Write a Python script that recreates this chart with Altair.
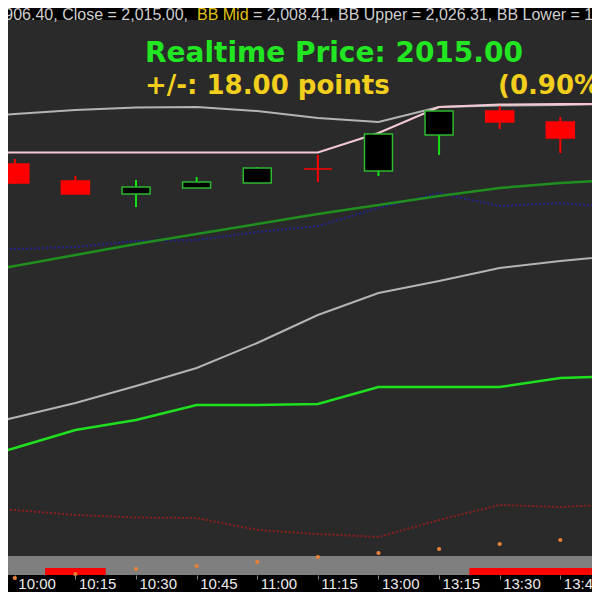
import json
import altair as alt
import pandas as pd

# ---------------- data ----------------
times = ["10:00", "10:15", "10:30", "10:45", "11:00", "11:15", "13:00", "13:15", "13:30", "13:45"]
bar_idx = list(range(10))
open_px = [2012.06, 2008.05, 2004.99, 2006.40, 2007.58, 2010.88, 2010.41, 2018.89, 2024.55, 2021.96]
high_px = [2013.24, 2009.23, 2008.29, 2008.99, 2011.35, 2014.18, 2019.13, 2024.55, 2025.73, 2023.14]
low_px = [2007.34, 2004.99, 2001.92, 2006.40, 2007.58, 2007.81, 2009.23, 2014.18, 2020.31, 2014.65]
close_px = [2007.58, 2004.99, 2006.64, 2007.81, 2011.11, 2010.88, 2019.13, 2024.55, 2021.96, 2018.19]

# line series (one bar before and one after the visible window)
line_idx = list(range(-1, 11))
bb_upper = [2022.90, 2023.84, 2024.79, 2025.37, 2025.49, 2024.55, 2022.90, 2021.96, 2025.49, 2025.85, 2025.96, 2026.31]
stop_line = [2014.77, 2014.77, 2014.77, 2014.77, 2014.77, 2014.77, 2014.77, 2019.36, 2025.49, 2026.08, 2026.20, 2026.20]
bb_mid = [1985.66, 1988.01, 1990.61, 1993.20, 1995.56, 1997.91, 2000.27, 2002.39, 2004.51, 2006.40, 2007.58, 2008.41]
avg_line = [1991.08, 1992.02, 1992.49, 1993.91, 1994.14, 1996.03, 1997.44, 2001.69, 2005.22, 2002.16, 2002.86, 2001.69]
bb_lower = [1948.89, 1952.30, 1955.72, 1959.73, 1963.97, 1969.86, 1976.46, 1981.65, 1984.48, 1987.54, 1989.19, 1990.51]
support_line = [1940.87, 1945.11, 1949.36, 1951.71, 1955.25, 1955.25, 1955.49, 1959.49, 1959.49, 1959.49, 1961.61, 1962.09]
trail_line = [1931.21, 1930.50, 1929.32, 1928.73, 1928.61, 1925.79, 1924.84, 1924.14, 1928.14, 1931.68, 1931.21, 1931.91]

# lower indicator strip
sig_idx = list(range(0, 11))
signal = [0, 1, 0, 0, 0, 0, 0, 0, 1, 1, 1]
strip_band = [0.0, 4.75]
signal_level = 1.75
dot_values = [-0.75, 0.25, 1.5, 2.25, 3.25, 4.5, 5.5, 6.5, 7.75, 8.75]

header_1 = "1,906.40, Close = 2,015.00,"
header_2 = "BB Mid"
header_3 = "= 2,008.41, BB Upper = 2,026.31, BB Lower = 1,990.51"
title_1 = "Realtime Price: 2015.00"
title_2 = "+/-: 18.00 points"
title_3 = "(0.90%)"

# ---------------- frames ----------------
candles = pd.DataFrame({"idx": bar_idx, "open": open_px, "high": high_px,
                        "low": low_px, "close": close_px})
lines = pd.DataFrame({"idx": line_idx, "bb_upper": bb_upper, "stop": stop_line,
                      "bb_mid": bb_mid, "avg": avg_line, "bb_lower": bb_lower,
                      "support": support_line, "trail": trail_line})
sig = pd.DataFrame({"idx": sig_idx, "signal": signal})
sig = sig[sig.signal == 1].copy()
sig["x0"] = sig["idx"] - 0.5
sig["x1"] = sig["idx"] + 0.5
sig["v0"] = 0.0
sig["v1"] = signal_level
strip = pd.DataFrame({"x0": [line_idx[0]], "x1": [line_idx[-1] + 1],
                      "v0": [strip_band[0]], "v1": [strip_band[1]]})
dots = pd.DataFrame({"idx": bar_idx, "v": dot_values})

header_df = pd.DataFrame({"x": [-0.393, 3.006, 3.930], "y": [2046.0] * 3,
                          "t": [header_1, header_2, header_3],
                          "c": ["grey", "yellow", "grey"]})
t1_df = pd.DataFrame({"x": [2.148], "y": [2036.10], "t": [title_1]})
t2_df = pd.DataFrame({"x": [2.148, 7.972], "y": [2028.56, 2028.56], "t": [title_2, title_3]})

# ---------------- scales / encodings ----------------
x_scale = alt.Scale(domain=[-0.1122, 9.523], nice=False, zero=False)
x_axis = alt.Axis(values=bar_idx, labelExpr=json.dumps(times) + "[datum.value]",
                  title=None, grid=False, domain=False, ticks=True, tickSize=4,
                  tickColor="#8a8a8a", tickWidth=1, labelColor="#ececec",
                  labelFont="Liberation Sans", labelFontSize=15, labelAlign="left",
                  labelBaseline="alphabetic", labelOffset=3, labelPadding=9,
                  labelFlush=False, labelOverlap=False)


def X(field):
    return alt.X(f"{field}:Q", scale=x_scale, axis=x_axis)


price_scale = alt.Scale(domain=[1915.18, 2046.0], nice=False, zero=False)
ind_scale = alt.Scale(domain=[0, 138.75], nice=False, zero=False)


def YP(field):
    return alt.Y(f"{field}:Q", scale=price_scale, axis=None)


def YI(field):
    return alt.Y(f"{field}:Q", scale=ind_scale, axis=None)


up = alt.datum.close > alt.datum.open

layers = []
layers.append(alt.Chart(strip).mark_rect(color="#7f7f7f", clip=True)
              .encode(x=X("x0"), x2="x1", y=YI("v0"), y2="v1"))
layers.append(alt.Chart(sig).mark_rect(color="#ff0000", clip=True)
              .encode(x=X("x0"), x2="x1", y=YI("v0"), y2="v1"))


def line_layer(field, color, width, dash=None):
    kw = dict(color=color, strokeWidth=width, clip=True)
    if dash:
        kw["strokeDash"] = dash
    return alt.Chart(lines).mark_line(**kw).encode(x=X("idx"), y=YP(field))


layers.append(line_layer("trail", "#8e1f1f", 2, [2, 2]))
layers.append(line_layer("support", "#1ee01e", 2.5))
layers.append(line_layer("bb_lower", "#b4b4b4", 2))
layers.append(line_layer("avg", "#24248c", 2, [2, 2]))
layers.append(line_layer("bb_mid", "#1f8f1f", 2.5))
layers.append(line_layer("bb_upper", "#b4b4b4", 2))
layers.append(line_layer("stop", "#f3cad4", 2))

wick_color = alt.when(up).then(alt.value("#12e012")).otherwise(alt.value("#ff0000"))
body_fill = alt.when(up).then(alt.value("#000000")).otherwise(alt.value("#ff0000"))
body_stroke = alt.when(up).then(alt.value("#2db82d")).otherwise(alt.value("#ff0000"))

candle_base = alt.Chart(candles).transform_calculate(
    bx0="datum.idx - 0.231", bx1="datum.idx + 0.231")
layers.append(candle_base.mark_rule(strokeWidth=2, clip=True)
              .encode(x=X("idx"), y=YP("low"), y2="high", color=wick_color))
layers.append(candle_base.mark_rect(strokeWidth=1.5, clip=True)
              .encode(x=X("bx0"), x2="bx1", y=YP("open"), y2="close",
                      fill=body_fill, stroke=body_stroke))

layers.append(alt.Chart(dots).mark_circle(size=18, color="#e8803a", opacity=1)
              .encode(x=X("idx"), y=YI("v")))

layers.append(alt.Chart(header_df).mark_text(align="left", baseline="alphabetic",
                                             font="Liberation Sans", fontSize=16)
              .encode(x=X("x"), y=YP("y"), text="t:N",
                      color=alt.Color("c:N", scale=alt.Scale(domain=["grey", "yellow"],
                                                             range=["#cfcfcf", "#e0c418"]),
                                      legend=None)))
layers.append(alt.Chart(t1_df).mark_text(align="left", baseline="alphabetic",
                                         font="DejaVu Sans", fontWeight="bold",
                                         fontSize=28, color="#22e622")
              .encode(x=X("x"), y=YP("y"), text="t:N"))
layers.append(alt.Chart(t2_df).mark_text(align="left", baseline="alphabetic",
                                         font="DejaVu Sans", fontWeight="bold",
                                         fontSize=26, color="#f2cf1c")
              .encode(x=X("x"), y=YP("y"), text="t:N"))

chart = (alt.layer(*layers)
         .resolve_scale(y="independent")
         .properties(width=584, height=555,
                     padding={"left": 0, "top": 12, "right": 0, "bottom": 17},
                     autosize=alt.AutoSizeParams(type="none"),
                     background="#000000")
         .configure_view(fill="#2a2a2a", strokeWidth=0))

chart.save("out.html", embed_options={"renderer": "svg", "actions": False})
